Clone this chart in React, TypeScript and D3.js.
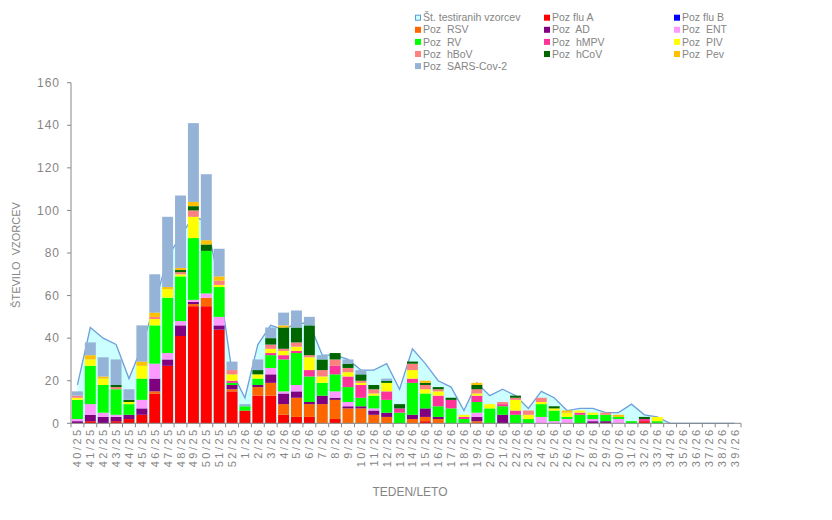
import * as d3 from "d3";

const weeks = [
  "40/25", "41/25", "42/25", "43/25", "44/25", "45/25", "46/25", "47/25", "48/25", "49/25", "50/25", "51/25", "52/25",
  "1/26", "2/26", "3/26", "4/26", "5/26", "6/26", "7/26", "8/26", "9/26", "10/26", "11/26", "12/26", "13/26",
  "14/26", "15/26", "16/26", "17/26", "18/26", "19/26", "20/26", "21/26", "22/26", "23/26", "24/26", "25/26", "26/26",
  "27/26", "28/26", "29/26", "30/26", "31/26", "32/26", "33/26", "34/26", "35/26", "36/26", "37/26", "38/26", "39/26",
];

// Št. testiranih vzorcev
const tested = [
  18, 45, 40, 37, 21, 36, 56, 78, 88, 97, 95, 66, 24,
  12, 37, 46, 44, 47, 47, 32, 32, 30, 25, 25, 28, 16,
  35, 28, 20, 17, 6, 19, 13, 16, 13, 7, 15, 12, 6,
  7, 7, 5, 5, 9, 4, 3, 0, 0, 0, 0, 0, 0,
];

const fluA = [
  0, 1, 0, 1, 2, 4, 14, 27, 41, 55, 55, 44, 15,
  6, 13, 13, 4, 3, 3, 0, 2, 0, 0, 0, 0, 0,
  0, 1, 0, 0, 0, 0, 0, 0, 0, 0, 0, 0, 0,
  0, 0, 0, 0, 0, 1, 0, 0, 0, 0, 0, 0, 0,
];
const fluB = new Array(52).fill(0);
const rsv = [
  0, 0, 0, 0, 0, 0, 1, 0, 0, 1, 4, 0, 1,
  0, 4, 6, 5, 9, 6, 9, 9, 7, 7, 4, 3, 0,
  2, 2, 2, 0, 0, 1, 0, 0, 0, 0, 0, 0, 0,
  0, 0, 0, 0, 0, 0, 0, 0, 0, 0, 0, 0, 0,
];
const ad = [
  1, 3, 3, 2, 2, 3, 6, 3, 5, 1, 0, 2, 2,
  0, 1, 4, 5, 3, 1, 4, 1, 1, 1, 2, 2, 0,
  2, 4, 1, 0, 0, 2, 0, 4, 0, 0, 0, 0, 0,
  0, 1, 1, 0, 0, 0, 0, 0, 0, 0, 0, 0, 0,
];
const ent = [
  1, 5, 2, 1, 0, 4, 7, 3, 2, 1, 2, 4, 0,
  0, 0, 3, 1, 3, 0, 0, 3, 2, 0, 1, 0, 0,
  0, 0, 0, 0, 0, 2, 0, 0, 0, 0, 3, 1, 2,
  0, 1, 0, 2, 0, 0, 0, 0, 0, 0, 0, 0, 0,
];
const rv = [
  9, 18, 13, 12, 5, 10, 18, 26, 21, 29, 20, 14, 1,
  2, 3, 6, 15, 15, 12, 6, 8, 7, 4, 6, 6, 5,
  15, 7, 5, 7, 2, 5, 7, 4, 4, 2, 6, 5, 1,
  4, 2, 3, 1, 1, 0, 1, 0, 0, 0, 0, 0, 0,
];
const hmpv = [
  0, 0, 0, 0, 0, 0, 0, 0, 0, 0, 0, 0, 1,
  0, 0, 1, 2, 1, 3, 0, 4, 5, 6, 0, 4, 2,
  2, 0, 5, 4, 1, 3, 0, 1, 2, 0, 0, 0, 0,
  1, 0, 0, 0, 0, 1, 0, 0, 0, 0, 0, 0, 0,
];
const piv = [
  1, 3, 3, 0, 1, 6, 3, 4, 1, 10, 0, 1, 3,
  0, 2, 2, 2, 2, 6, 3, 0, 2, 1, 1, 4, 0,
  4, 2, 2, 0, 1, 1, 2, 0, 5, 2, 1, 1, 2,
  1, 1, 0, 0, 0, 0, 2, 0, 0, 0, 0, 0, 0,
];
const hbov = [
  1, 0, 0, 1, 0, 0, 1, 0, 1, 3, 0, 2, 2,
  0, 0, 2, 1, 2, 1, 3, 3, 2, 1, 2, 0, 0,
  3, 2, 1, 0, 0, 2, 0, 1, 1, 2, 2, 0, 0,
  0, 0, 1, 0, 0, 0, 0, 0, 0, 0, 0, 0, 0,
];
const hcov = [
  0, 0, 0, 1, 1, 0, 0, 0, 1, 2, 3, 0, 0,
  0, 2, 3, 10, 7, 14, 5, 3, 2, 3, 2, 1, 2,
  1, 1, 1, 1, 0, 2, 0, 0, 1, 0, 0, 1, 0,
  0, 0, 0, 0, 0, 1, 0, 0, 0, 0, 0, 0, 0,
];
const pev = [
  0, 2, 1, 0, 0, 2, 2, 1, 1, 2, 2, 2, 0,
  0, 0, 0, 1, 0, 0, 0, 0, 0, 0, 0, 0, 0,
  0, 1, 0, 0, 0, 1, 0, 0, 0, 0, 0, 0, 1,
  0, 0, 0, 1, 0, 0, 0, 0, 0, 0, 0, 0, 0,
];
const sars = [
  2, 6, 9, 12, 5, 17, 18, 33, 34, 37, 31, 13, 4,
  1, 5, 5, 6, 8, 4, 2, 0, 2, 2, 0, 1, 0,
  0, 0, 0, 0, 0, 0, 0, 0, 0, 0, 0, 0, 0,
  0, 0, 0, 0, 0, 0, 0, 0, 0, 0, 0, 0, 0,
];

const seriesNames = [
  "Poz flu A", "Poz flu B", "Poz  RSV", "Poz  AD", "Poz  ENT", "Poz  RV",
  "Poz  hMPV", "Poz  PIV", "Poz  hBoV", "Poz  hCoV", "Poz  Pev", "Poz  SARS-Cov-2",
];
const seriesColors = [
  "#ff0000", "#0000ff", "#ff6600", "#800080", "#ff99ff", "#00ff00",
  "#ff3399", "#ffff00", "#ff8080", "#006600", "#ffc000", "#95b3d7",
];
const seriesValues = [fluA, fluB, rsv, ad, ent, rv, hmpv, piv, hbov, hcov, pev, sars];
const yTicks = [0, 20, 40, 60, 80, 100, 120, 140, 160];

const font = "'Liberation Sans', Arial, sans-serif";
const textColor = "#858585";

export default function App() {
  const x = d3.scaleBand<string>().domain(weeks).range([71, 741]).paddingInner(0.15).paddingOuter(0.075);
  const y = d3.scaleLinear().domain([0, 160]).range([423.3, 82.7]);

  const keys = seriesNames.map((_, k) => "s" + k);
  const rows = weeks.map((w, i) => {
    const r: Record<string, number | string> = { week: w };
    keys.forEach((key, k) => (r[key] = seriesValues[k][i]));
    return r;
  });
  const stacked = d3.stack<Record<string, number | string>>().keys(keys)(rows as any);

  const cx = (i: number) => (x(weeks[i]) as number) + x.bandwidth() / 2;
  const area = d3.area<number>().x((_, i) => cx(i)).y0(y(0)).y1(d => y(d));
  const line = d3.line<number>().x((_, i) => cx(i)).y(d => y(d));

  const x0 = x.range()[0];
  const boundaries = d3.range(weeks.length + 1).map(i => x0 + i * x.step());

  const legendItems = [{ name: "Št. testiranih vzorcev", color: "" }].concat(
    seriesNames.map((n, k) => ({ name: n, color: seriesColors[k] }))
  );
  const legendCols = [415, 544, 674];

  return (
    <svg
      width={832}
      height={520}
      style={{ position: "absolute", left: 0, top: 0, background: "#fff" }}
      fontFamily={font}
    >
      <path d={area(tested) ?? ""} fill="#ccffff" />
      <path d={line(tested) ?? ""} fill="none" stroke="#6f9fdc" strokeWidth={1.3} />

      {stacked.map((layer, k) => (
        <g key={k} fill={seriesColors[k]}>
          {layer.map((d, i) =>
            d[1] - d[0] > 0 ? (
              <rect
                key={i}
                x={x(weeks[i])}
                width={x.bandwidth()}
                y={y(d[1])}
                height={y(d[0]) - y(d[1])}
              />
            ) : null
          )}
        </g>
      ))}

      {/* y axis */}
      <line x1={x0} x2={x0} y1={y(160)} y2={y(0)} stroke="#888" />
      {yTicks.map(t => (
        <g key={t}>
          <line x1={x0 - 4} x2={x0} y1={y(t)} y2={y(t)} stroke="#888" />
          <text
            x={60}
            y={y(t)}
            dy="0.35em"
            textAnchor="end"
            fontSize={12}
            letterSpacing={1}
            fill={textColor}
          >
            {t}
          </text>
        </g>
      ))}

      {/* x axis */}
      <line x1={x0} x2={x.range()[1]} y1={y(0)} y2={y(0)} stroke="#888" />
      {boundaries.map((b, i) => (
        <line key={i} x1={b} x2={b} y1={y(0)} y2={y(0) + 4} stroke="#888" />
      ))}
      {weeks.map((w, i) => (
        <text
          key={w}
          transform={`translate(${cx(i) + 4},${y(0) + 4}) rotate(-90)`}
          textAnchor="end"
          fontSize={11}
          letterSpacing={2.5}
          fill={textColor}
        >
          {w}
        </text>
      ))}

      <text
        transform={`translate(20,255) rotate(-90)`}
        textAnchor="middle"
        fontSize={11}
        fill={textColor}
        style={{ whiteSpace: "pre" }}
      >
        {"ŠTEVILO  VZORCEV"}
      </text>
      <text x={410} y={496} textAnchor="middle" fontSize={12} fill={textColor}>
        TEDEN/LETO
      </text>

      {/* legend */}
      {legendItems.map((it, j) => {
        const col = j % 3;
        const row = Math.floor(j / 3);
        const lx = legendCols[col];
        const ly = 17.7 + row * 12.1;
        return (
          <g key={j}>
            {it.color ? (
              <rect x={lx} y={ly - 3} width={6} height={6} fill={it.color} />
            ) : (
              <rect x={lx + 0.5} y={ly - 2.5} width={5} height={5} fill="#ccffff" stroke="#5b9bd5" strokeWidth={1} />
            )}
            <text
              x={lx + 8}
              y={ly}
              dy="0.35em"
              fontSize={10.5}
              fill={textColor}
              style={{ whiteSpace: "pre" }}
            >
              {it.name}
            </text>
          </g>
        );
      })}
    </svg>
  );
}
